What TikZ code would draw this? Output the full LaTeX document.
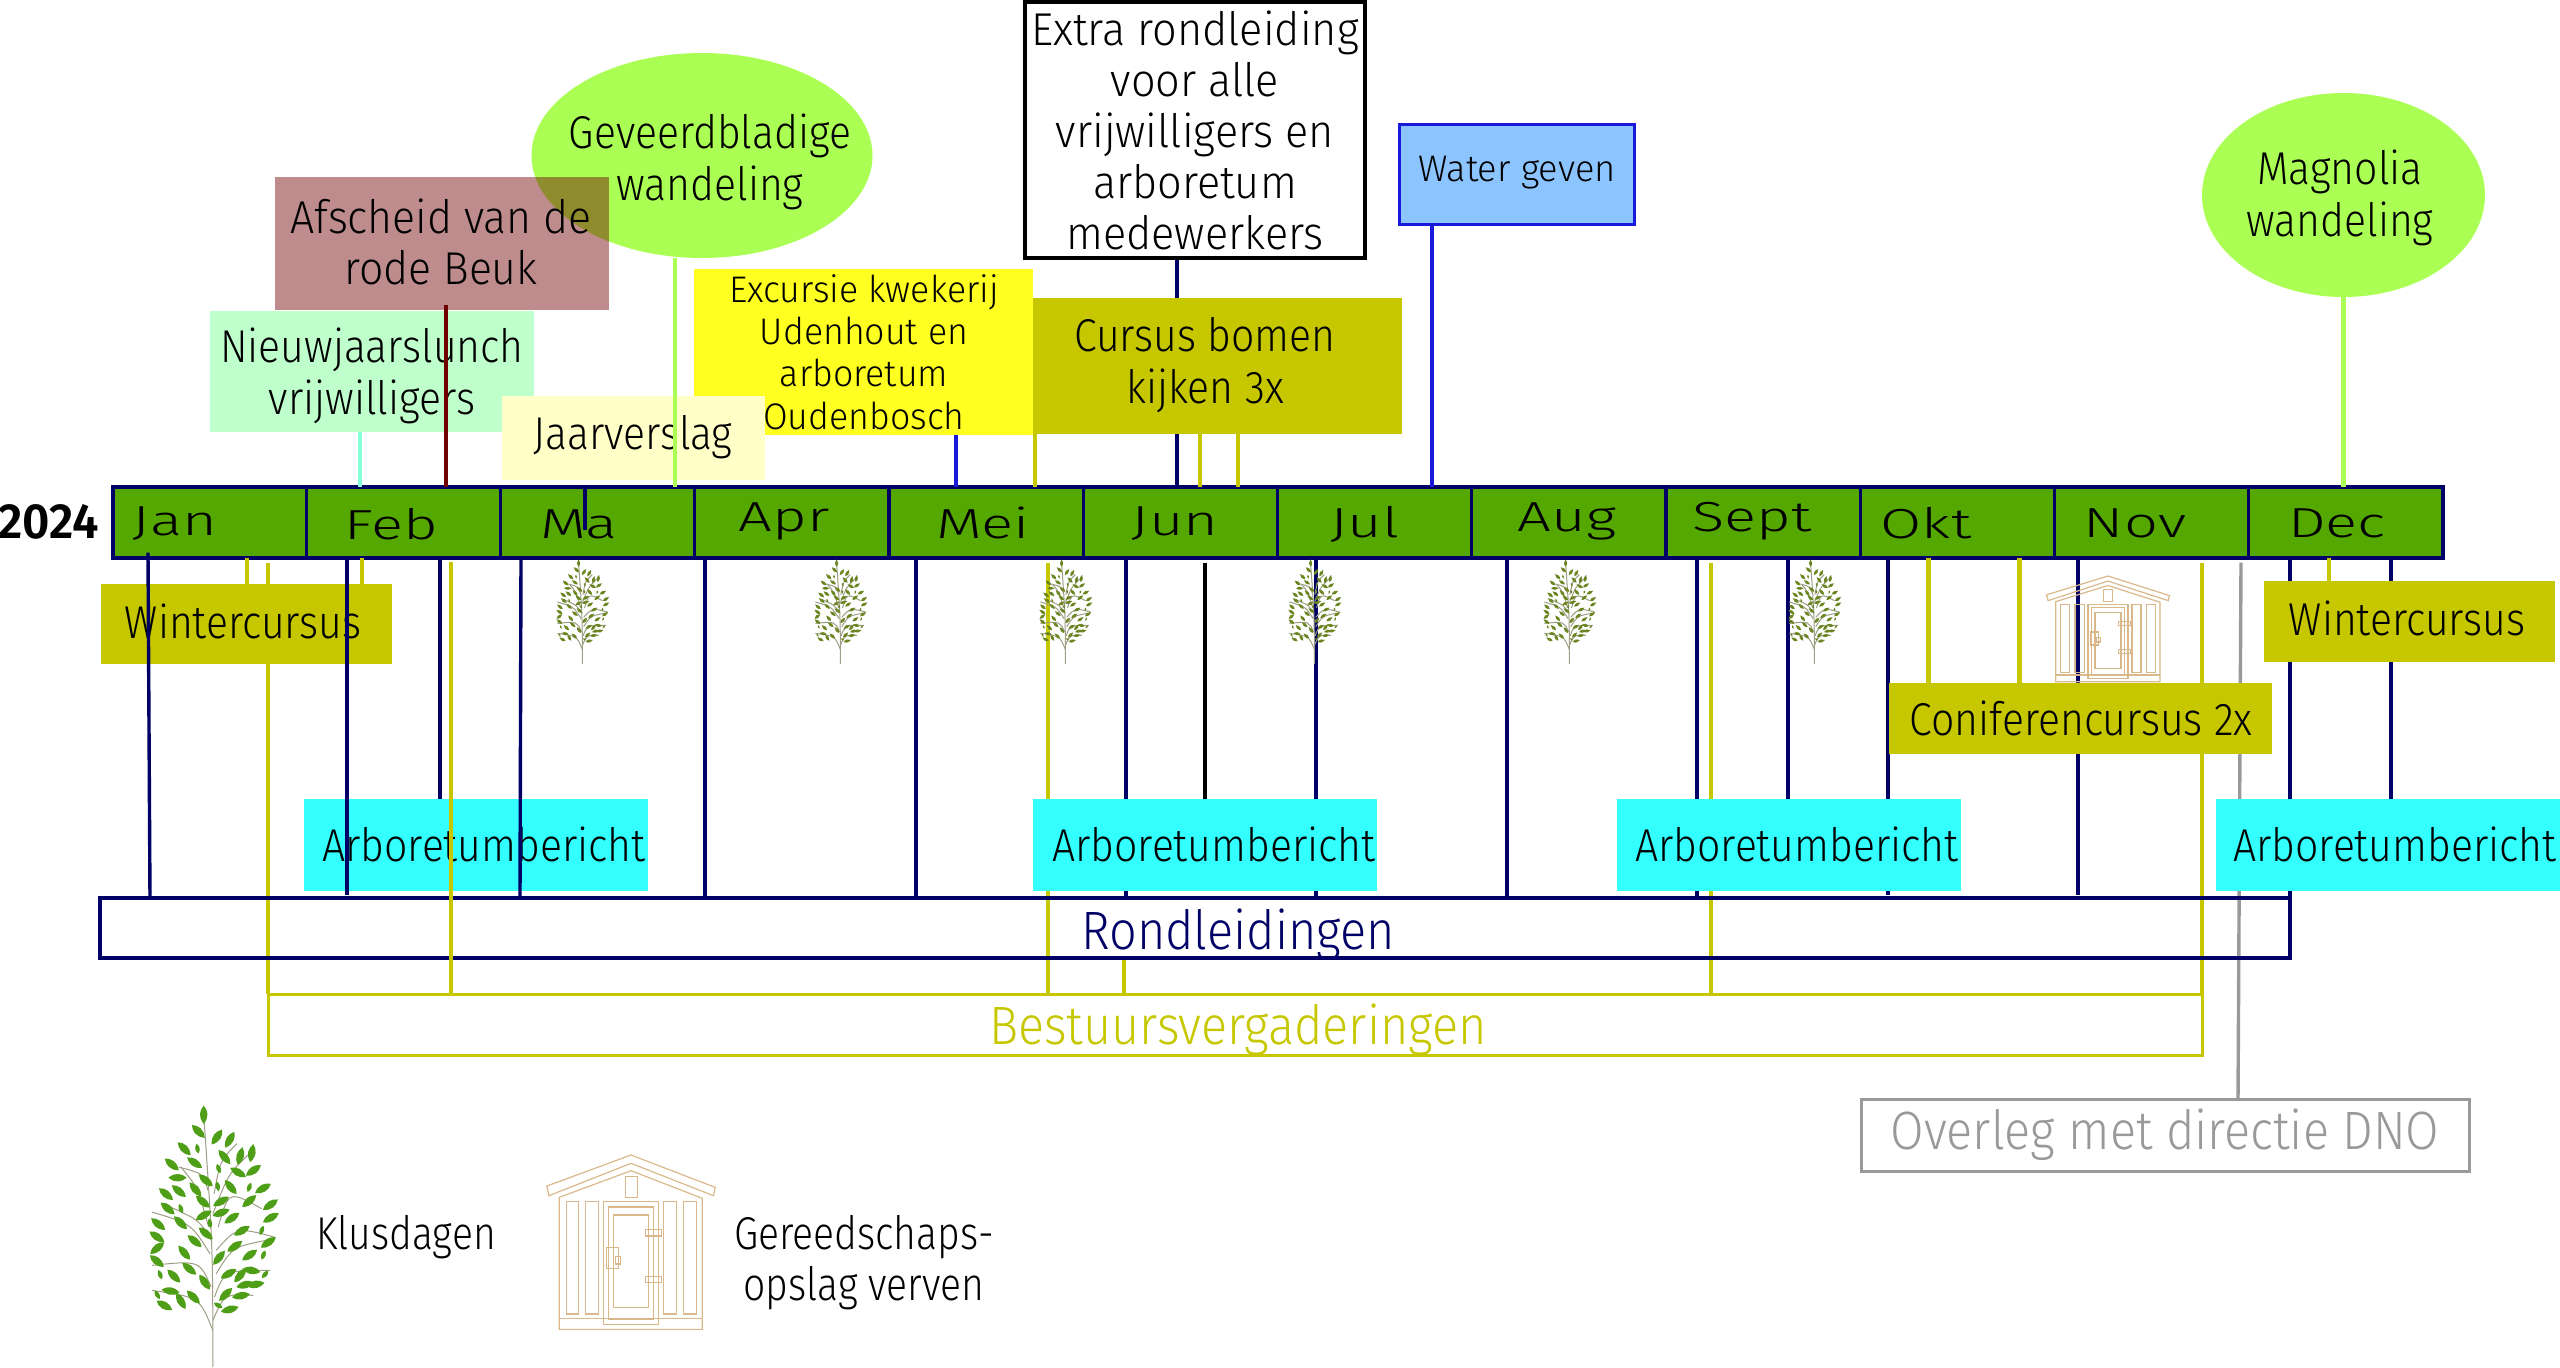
\documentclass[tikz,border=0pt]{standalone}
\usepackage{fontspec}
\setmainfont{Fira Sans Light}
\usetikzlibrary{backgrounds}
\usetikzlibrary{shapes.geometric}
\definecolor{mnavy}{rgb}{0.0, 0.0, 0.4}
\definecolor{mblue}{rgb}{0.1, 0.1, 0.85}
\definecolor{mgreen}{rgb}{0.33, 0.66, 0.0}
\definecolor{mlime}{rgb}{0.67, 1.0, 0.33}
\definecolor{mmint}{rgb}{0.75, 1.0, 0.8}
\definecolor{mrust}{rgb}{0.43, 0.0, 0.0}
\definecolor{mcream}{rgb}{1.0, 1.0, 0.78}
\definecolor{myellow}{rgb}{1.0, 1.0, 0.13}
\definecolor{molive}{rgb}{0.78, 0.78, 0.0}
\definecolor{mcyan}{rgb}{0.2, 1.0, 1.0}
\definecolor{msky}{rgb}{0.55, 0.77, 1.0}
\definecolor{mgray}{rgb}{0.6, 0.6, 0.6}
\definecolor{mtan}{rgb}{0.85, 0.72, 0.55}
\definecolor{mbranch}{rgb}{0.62, 0.62, 0.52}
\definecolor{mleaf}{rgb}{0.31, 0.62, 0.09}
\definecolor{mdarkleaf}{rgb}{0.42, 0.52, 0.13}
\newcommand{\letter}[3]{\fontsize{#1}{#2}\selectfont\addfontfeatures{FakeStretch=#3}}
\tikzset{tekst/.style = {font=\letter{23}{26}{0.89}, align=center, inner sep=0pt}}
\tikzset{grotetekst/.style = {font=\letter{27}{30}{0.9}, inner sep=0pt}}
\tikzset{kaart/.style = {inner sep=0pt, outer sep=0pt}}
\tikzset{arbobox/.style = {kaart, fill=mcyan, minimum width=172pt, minimum height=46pt}}
\tikzset{maand/.style = {font=\letter{21}{25}{1.42}, inner sep=0pt}}
\tikzset{navylijn/.style = {mnavy, line width=1.7pt}}
\tikzset{oliflijn/.style = {molive, line width=1.7pt}}
\tikzset{dikolijf/.style = {molive, line width=2.5pt}}
\tikzset{boom/.pic = {
    \begin{scope}[x=0.2073pt, y=-0.1667pt, shift={(-270,-80)}]
      \foreach \a/\b/\c/\d/\e/\f in {272/860/272/500/250/103, 272/750/240/650/125/630, 272/720/300/640/370/645,
          268/620/240/540/125/555, 276/650/300/570/410/570, 265/520/220/430/125/395, 280/510/330/440/420/470,
          262/440/235/320/195/260, 285/440/310/330/390/385, 260/330/250/280/190/260, 275/340/290/240/330/190,
          280/580/320/500/400/480, 268/480/240/420/170/380, 272/400/310/280/360/220}
        \draw [mbranch, line width=0.5pt] (\a, \b) .. controls (\c, \d) .. (\e, \f);
      \foreach \x/\y/\r in {250/103/90, 237/153/135, 282/170/55, 313/178/60, 203/205/135, 300/230/130, 338/227/75,
          366/218/80, 173/252/140, 228/247/145, 333/276/150, 370/270/35, 187/292/0, 255/300/140, 190/332/140,
          230/327/130, 315/320/130, 393/324/30, 159/341/140, 248/364/140, 292/363/30, 360/362/40, 411/373/35,
          163/384/140, 250/405/30, 292/397/20, 318/413/35, 412/412/30, 140/431/140, 194/427/135, 342/451/30,
          137/469/145, 255/459/140, 228/482/140, 406/486/35, 138/503/40, 325/498/35, 203/517/130, 361/524/35,
          287/532/50, 137/542/140, 215/565/140, 310/580/30, 365/570/170, 338/585/50, 178/587/135, 252/605/125,
          350/613/15, 375/612/10, 170/632/170, 303/642/45, 225/650/135, 340/646/10, 195/662/120, 155/675/150,
          313/687/15}
        \fill [pic actions, shift={(\x, \y)}, rotate=\r] (-22, 0) .. controls (-6, 17) and (10, 13) .. (22, 0) .. controls (10, -13) and (-6, -17) .. (-22, 0);
      \foreach \x/\y/\r in {235/205/100, 286/265/110, 284/318/100, 360/321/70, 195/385/110, 265/429/100, 390/450/70,
          394/524/70, 145/583/110, 398/582/50, 138/643/120, 285/675/150}
        \fill [pic actions, shift={(\x, \y)}, rotate=\r] (-12, 0) .. controls (-3, 10) and (5, 8) .. (12, 0) .. controls (5, -8) and (-3, -10) .. (-12, 0);
    \end{scope}
  }}
\tikzset{schuur/.pic = {
    \begin{scope}[x=0.2073pt, y=-0.1667pt, shift={(-1281,-225)}, mtan, line width=0.6pt]
      \draw (1078, 318) -- (1281, 225) -- (1484, 322) -- (1480, 347) -- (1281, 250) -- (1083, 347) -- cycle;
      \draw (1108, 352) -- (1281, 272) -- (1453, 355) -- (1453, 748) -- (1108, 748) -- cycle;
      \draw (1108, 715) -- (1453, 715);
      \draw (1267, 290) rectangle (1296, 352);
      \foreach \x in {1125, 1172, 1360, 1408}
        \draw (\x, 365) rectangle (\x + 30, 702);
      \draw (1215, 365) rectangle (1347, 733);
      \draw (1226, 381) rectangle (1336, 718);
      \draw (1238, 405) rectangle (1324, 682);
      \draw (1316, 449) rectangle (1355, 468);
      \draw (1316, 590) rectangle (1355, 608);
      \draw (1222, 502) rectangle (1250, 566);
      \draw (1243, 530) rectangle (1256, 552);
    \end{scope}
  }}

\begin{document}
\begin{tikzpicture}[x=0.5pt, y=-0.5pt]
    \useasboundingbox (0, 0) rectangle (2560, 1367);

    \node [kaart, ellipse, fill=mlime, minimum width=170.5pt, minimum height=102.5pt] (geveerd) at (702, 155.5) {};
    \node [tekst] (geveerdtekst) at (710, 162) {Geveerdbladige\\wandeling};
    \node [kaart, ellipse, fill=mlime, minimum width=141.5pt, minimum height=102pt] (magnolia) at (2343.5, 195) {};
    \node [tekst] (magnoliatekst) at (2340, 198) {Magnolia\\wandeling};

    \node [kaart, fill=mrust, fill opacity=0.45, minimum width=167pt, minimum height=66.5pt] (afscheid) at (442, 243.5) {};
    \node [tekst, font=\letter{23}{25.3}{0.93}] (afscheidtekst) at (441, 242) {Afscheid van de\\rode Beuk};
    \node [kaart, fill=mmint, minimum width=162pt, minimum height=60.5pt] (nieuwjaar) at (372, 371.5) {};
    \node [tekst] (nieuwjaartekst) at (372, 376) {Nieuwjaarslunch\\vrijwilligers};
    \node [kaart, fill=myellow, minimum width=169.5pt, minimum height=83pt] (excursie) at (863.5, 352) {};
    \node [tekst, font=\letter{18.5}{21.2}{0.965}] (excursietekst) at (864, 352) {Excursie kwekerij\\Udenhout en\\arboretum\\Oudenbosch};
    \node [kaart, fill=mcream, minimum width=131.5pt, minimum height=42pt] (jaarverslag) at (633.5, 438) {};
    \node [tekst] (jaarverslagtekst) at (633, 437) {Jaarverslag};
    \node [kaart, fill=molive, minimum width=184.5pt, minimum height=68pt] (cursus) at (1217.5, 366) {};
    \node [tekst] (cursustekst) at (1205, 365.5) {Cursus bomen\\kijken 3x};
    \node [kaart, draw=black, line width=2pt, fill=white, minimum width=170pt, minimum height=128pt] (extra) at (1195, 130) {};
    \node [tekst, font=\letter{23}{25.5}{0.94}] (extratekst) at (1195, 130) {Extra rondleiding\\voor alle\\vrijwilligers en\\arboretum\\medewerkers};
    \node [kaart, draw=mblue, line width=1.5pt, fill=msky, minimum width=117.5pt, minimum height=50pt] (water) at (1516.5, 174) {};
    \node [tekst, font=\letter{18.5}{21}{0.98}] (watertekst) at (1517, 173) {Water geven};

    \node [kaart, draw=mnavy, line width=2pt, fill=mgreen, minimum width=1165pt, minimum height=35.5pt] (balk) at (1277.75, 522) {};
    \foreach \i in {1, ..., 11}
      \draw [navylijn] (112 + 194.25 * \i, 0 |- balk.north) -- (112 + 194.25 * \i, 0 |- balk.south);
    \foreach \naam/\x/\y in {Jan/175/524, Feb/391/524, Ma/579/524, Apr/784/521, Mei/983/523, Jun/1175/524,
        Jul/1365/524, Aug/1567/521, Sept/1752/521, Okt/1926/523, Nov/2135/523, Dec/2337/523}
      \node [maand] (m\naam) at (\x, \y) {\naam};
    \node [tekst, font=\fontsize{24.7}{26}\bfseries\selectfont\addfontfeatures{FakeStretch=0.96}] (jaar) at (49, 522) {2024};

    \node [kaart, fill=molive, minimum width=145.5pt, minimum height=40pt] (wintereen) at (246.5, 624) {};
    \node [tekst] (wintereentekst) at (243, 621) {Wintercursus};
    \node [kaart, fill=molive, minimum width=145.5pt, minimum height=40.5pt] (wintertwee) at (2409.5, 621.5) {};
    \node [tekst] (wintertweetekst) at (2407, 618) {Wintercursus};
    \node [kaart, fill=molive, minimum width=191.5pt, minimum height=35.5pt] (conifeer) at (2080.5, 718.5) {};
    \node [tekst] (conifeertekst) at (2081, 718) {Coniferencursus 2x};

    \foreach \naam/\x/\t in {arboeen/475.5/484, arbotwee/1205/1214, arbodrie/1788.5/1797, arbovier/2388/2395} {
      \node [arbobox] (\naam) at (\x, 845) {};
      \node [tekst] (\naam tekst) at (\t, 844) {Arboretumbericht};
    }

    \node [kaart, draw=mnavy, line width=1.75pt, minimum width=1095pt, minimum height=30pt] (ronde) at (1195, 928) {};
    \node [grotetekst, mnavy] (rondetekst) at (1238, 935) {Rondleidingen};
    \node [kaart, draw=molive, line width=1.5pt, minimum width=967pt, minimum height=30.5pt] (bestuur) at (1235, 1024.5) {};
    \node [grotetekst, molive] (bestuurtekst) at (1238, 1030) {Bestuursvergaderingen};
    \node [kaart, draw=mgray, line width=1.5pt, fill=white, minimum width=304pt, minimum height=36pt] (overleg) at (2165, 1135) {};
    \node [grotetekst, mgray] (overlegtekst) at (2165, 1135) {Overleg met directie DNO};

    \foreach \x in {582, 840, 1065, 1314, 1569, 1814}
      \pic [fill=mdarkleaf, xscale=0.41, yscale=0.4] at (\x, 560) {boom};
    \pic [xscale=0.73, yscale=0.606] at (2108, 576) {schuur};

    \pic [fill=mleaf] at (212, 1107) {boom};
    \pic at (631, 1155) {schuur};
    \node [tekst, font=\letter{23}{26}{0.85}] (klus) at (406, 1237) {Klusdagen};
    \node [tekst, font=\letter{23}{25.5}{0.85}] (opslag) at (864, 1263) {Gereedschaps-\\opslag verven};

    \begin{scope}[on background layer]
      \foreach \x in {705, 916, 1126, 1316, 1507, 1697}
        \draw [navylijn] (\x, 0 |- balk.south) -- (\x, 0 |- ronde.north);
      \foreach \x in {1888, 2078}
        \draw [navylijn, shorten >=1.5pt] (\x, 0 |- balk.south) -- (\x, 0 |- ronde.north);
      \foreach \x/\doel in {1788/arbodrie, 2391/arbovier}
        \draw [navylijn] (\x, 0 |- balk.south) -- (\x, 0 |- \doel.north);
      \draw [navylijn] (2290, 0 |- balk.south) -- (ronde.north east);
      \draw [navylijn] (1177, 0 |- extra.south) -- (1177, 0 |- balk.north);
      \draw [black, line width=1.7pt] (1205, 0 |- balk.south) ++(0, 5) -- (1205, 0 |- arbotwee.north);
      \draw [mgray, line width=1.7pt] (2241, 0 |- balk.south) ++(0, 5) -- (2238, 0 |- overleg.north);
      \foreach \x in {268, 1048, 1711, 2202}
        \draw [oliflijn] (\x, 0 |- balk.south) ++(0, 5) -- (\x, 0 |- bestuur.north);
      \draw [oliflijn] (1124, 0 |- ronde.south) -- (1124, 0 |- bestuur.north);
    \end{scope}

    \draw [navylijn] (148, 0 |- balk.south) ++(0, -5) -- (150, 0 |- ronde.north);
    \draw [navylijn, shorten >=1.5pt] (347, 0 |- balk.south) -- (347, 0 |- ronde.north);
    \draw [navylijn] (521, 0 |- balk.south) -- (520, 0 |- ronde.north);
    \draw [navylijn] (440, 0 |- balk.south) -- (440, 0 |- arboeen.north);
    \draw [oliflijn] (451, 0 |- balk.south) ++(0, 4) -- (451, 0 |- bestuur.north);
    \draw [navylijn] (585, 0 |- balk.north) ++(0, -2) -- (585, 530);

    \draw [mmint!70!cyan, line width=1.7pt] (360, 0 |- nieuwjaar.south) -- (360, 0 |- balk.north);
    \draw [mrust, line width=1.7pt] (446, 0 |- afscheid.south) ++(0, -5) -- (446, 0 |- balk.north);
    \draw [mlime, line width=2pt] (675, 0 |- geveerd.south) -- (675, 0 |- balk.north);
    \draw [mlime, line width=2.5pt] (2343, 0 |- magnolia.south) -- (2343, 0 |- balk.north);
    \draw [mblue, line width=1.7pt] (956, 0 |- excursie.south) -- (956, 0 |- balk.north);
    \draw [mblue, line width=1.7pt] (1432, 0 |- water.south) -- (1432, 0 |- balk.north);
    \foreach \x in {1035, 1200, 1238}
      \draw [oliflijn] (\x, 0 |- cursus.south) -- (\x, 0 |- balk.north);

    \draw [oliflijn] (247, 0 |- balk.south) -- (247, 0 |- wintereen.north);
    \draw [oliflijn] (362, 0 |- balk.south) -- (362, 0 |- wintereen.north);
    \draw [oliflijn] (2329, 0 |- balk.south) -- (2329, 0 |- wintertwee.north);
    \foreach \x in {1928, 2019}
      \draw [dikolijf] (\x, 0 |- balk.south) -- (\x, 0 |- conifeer.north);
  \end{tikzpicture}
\end{document}
